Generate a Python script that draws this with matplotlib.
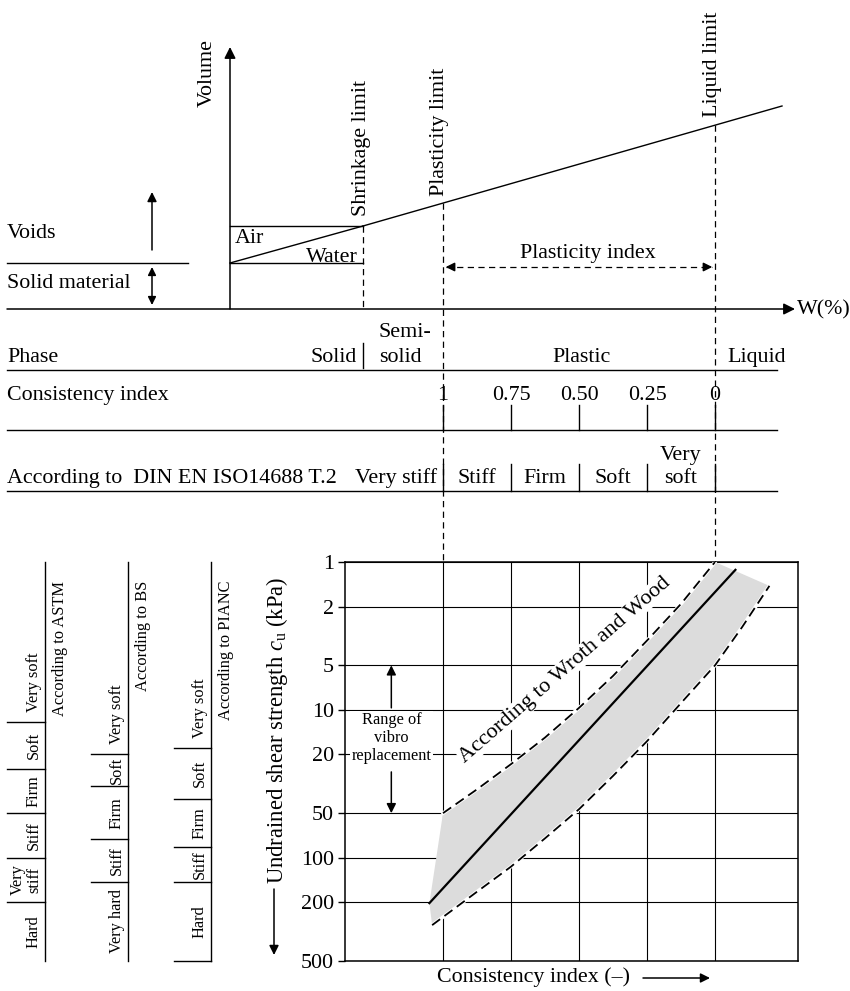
"""
Soil consistency diagram: volume vs water content, consistency classes
and undrained shear strength vs consistency index (Wroth and Wood).
"""
import matplotlib
matplotlib.use("Agg")
import matplotlib.pyplot as plt
from matplotlib.transforms import blended_transform_factory

plt.rcParams['font.family'] = ['Liberation Serif', 'DejaVu Serif']
plt.rcParams['mathtext.fontset'] = 'custom'
plt.rcParams['mathtext.rm'] = 'Liberation Serif'
plt.rcParams['mathtext.it'] = 'Liberation Serif:italic'

# ---- data ----
ic_ticks = [1.0, 0.75, 0.50, 0.25, 0.0]
ic_tick_labels = ['1', '0.75', '0.50', '0.25', '0']
din_labels = ['Stiff', 'Firm', 'Soft', 'Very\nsoft']
cu_ticks = [1, 2, 5, 10, 20, 50, 100, 200, 500]

# Wroth and Wood band (consistency index, cu in kPa)
mid_ic = [1.05, -0.075]
mid_cu = [203, 1.13]
upper_ic = [1.0, 0.875, 0.75, 0.625, 0.5, 0.375, 0.25, 0.125, 0.0]
upper_cu = [50, 34.5, 23.3, 15.4, 9.7, 5.9, 3.4, 1.92, 1.0]
lower_ic = [1.04, 0.875, 0.75, 0.625, 0.5, 0.375, 0.25, 0.125, 0.0, -0.1, -0.2]
lower_cu = [286, 170, 115, 74, 47, 28, 16.3, 9.0, 5.0, 2.75, 1.45]

vibro_range = [5, 50]

astm_bounds = [12, 25, 50, 100, 200]
astm_labels = ['Very soft', 'Soft', 'Firm', 'Stiff', 'Very\nstiff', 'Hard']
bs_bounds = [20, 33, 75, 145]
bs_labels = ['Very soft', 'Soft', 'Firm', 'Stiff', 'Very hard']
pianc_bounds = [18, 40, 85, 145]
pianc_labels = ['Very soft', 'Soft', 'Firm', 'Stiff', 'Hard']

FS = 15.8
SMALL = 11.8
K = 'black'
LW = 1.0
DASH = (5, 3.5)


def arrow(ax, tail, head, style='-|>', scale=15, **kw):
    ax.annotate('', xy=head, xytext=tail,
                arrowprops=dict(arrowstyle=style, color=K, lw=1.1,
                                mutation_scale=scale, shrinkA=0, shrinkB=0),
                **kw)


fig = plt.figure(figsize=(8.5, 9.91), dpi=100)

# overlay in pixel coordinates (y downwards)
ov = fig.add_axes([0, 0, 1, 1])
ov.set_xlim(0, 850)
ov.set_ylim(991, 0)
ov.axis('off')
ov.patch.set_visible(False)

# chart
ch = fig.add_axes([345 / 850, 30 / 991, 453 / 850, 399 / 991])
ch.set_yscale('log')
ch.set_ylim(500, 1)
ch.set_xlim(1.3603, -0.3051)
ch.set_yticks(cu_ticks)
ch.set_yticklabels([str(v) for v in cu_ticks], fontsize=FS)
ch.yaxis.set_minor_locator(plt.NullLocator())
ch.set_xticks([])
ch.tick_params(axis='y', length=5, width=1, pad=3)
for s in ch.spines.values():
    s.set_linewidth(1.1)
for v in cu_ticks:
    ch.axhline(v, color=K, lw=0.8, zorder=1)
for v in ic_ticks:
    ch.axvline(v, color=K, lw=0.8, zorder=1)

bt_ic = blended_transform_factory(ch.transData, ov.transData)
bt_cu = blended_transform_factory(ov.transData, ch.transData)

# band
poly_ic = upper_ic + lower_ic[::-1] + [mid_ic[0]]
poly_cu = upper_cu + lower_cu[::-1] + [mid_cu[0]]
ch.fill(poly_ic, poly_cu, color='#dcdcdc', lw=0, zorder=2)
for xs, ys in [(upper_ic, upper_cu), (lower_ic, lower_cu)]:
    ch.plot(xs, ys, color='white', lw=2.6, zorder=3)
    ch.plot(xs, ys, color=K, lw=1.3, dashes=(5.5, 3), zorder=4)
ch.plot(mid_ic, mid_cu, color=K, lw=1.6, zorder=4)

ch.text(0.5515, 5.38, 'According to Wroth and Wood', rotation=41,
        rotation_mode='anchor', ha='center', va='center', fontsize=16,
        bbox=dict(fc='white', ec='none', pad=0.5), zorder=5)

vx = 1.19
ch.text(vx, 15.5, 'Range of\nvibro\nreplacement', ha='center', va='center',
        fontsize=SMALL, linespacing=1.15,
        bbox=dict(fc='white', ec='none', pad=1), zorder=5)
arrow(ch, (vx, 9.7), (vx, vibro_range[0]), scale=14)
arrow(ch, (vx, 26.3), (vx, vibro_range[1]), scale=14)

ov.text(277, 730, r'Undrained shear strength $c_\mathrm{u}$ (kPa)',
        rotation=90, ha='center', va='center', fontsize=16.3)
arrow(ov, (274, 889), (274, 955), scale=14)
ov.text(534, 977, 'Consistency index (–)', ha='center', va='center', fontsize=FS)
arrow(ov, (643, 978), (710, 978), scale=14)

# ---- top: volume diagram ----
arrow(ov, (230, 309), (230, 47), scale=17)
arrow(ov, (7, 309), (795, 309), scale=17)
ov.text(797, 310, 'W(%)', ha='left', va='center', fontsize=FS)
ov.text(207, 73, 'Volume', rotation=90, ha='center', va='center', fontsize=FS)

ov.plot([7, 188], [263, 263], color=K, lw=LW)
arrow(ov, (152, 250), (152, 192), scale=14)
arrow(ov, (152, 267), (152, 305), style='<|-|>', scale=12)
ov.text(7, 238, 'Voids', va='baseline', fontsize=FS)
ov.text(7, 288, 'Solid material', va='baseline', fontsize=FS)

ov.plot([230, 363], [226, 226], color=K, lw=LW)
ov.plot([230, 363], [263, 263], color=K, lw=LW)
ov.plot([230, 363], [263, 226], color=K, lw=LW)
ov.plot([363, 782], [226, 106], color=K, lw=LW)
ov.text(235, 243, 'Air', va='baseline', fontsize=FS)
ov.text(358, 262, 'Water', ha='right', va='baseline', fontsize=FS)

ov.plot([363, 363], [226, 309], color=K, lw=0.9, dashes=DASH)
ov.plot([1, 1], [203, 562], color=K, lw=0.9, dashes=DASH, transform=bt_ic)
ov.plot([0, 0], [125, 562], color=K, lw=0.9, dashes=DASH, transform=bt_ic)
ov.text(362, 216, 'Shrinkage limit', rotation=90, ha='center', va='bottom', fontsize=FS)
ov.text(440, 196, 'Plasticity limit', rotation=90, ha='center', va='bottom', fontsize=FS)
ov.text(713, 117, 'Liquid limit', rotation=90, ha='center', va='bottom', fontsize=FS)

ov.plot([0.99, 0.01], [267, 267], color=K, lw=0.9, dashes=DASH, transform=bt_ic)
arrow(ov, (0.96, 267), (0.99, 267), scale=13, xycoords=bt_ic, textcoords=bt_ic)
arrow(ov, (0.04, 267), (0.01, 267), scale=13, xycoords=bt_ic, textcoords=bt_ic)
ov.text(588, 258, 'Plasticity index', ha='center', va='baseline', fontsize=FS)

# ---- phase / consistency / DIN rows ----
ov.text(7, 362, 'Phase', va='baseline', fontsize=FS)
ov.text(357, 362, 'Solid', ha='right', va='baseline', fontsize=FS)
ov.plot([363, 363], [343, 368], color=K, lw=LW)
ov.text(379, 337, 'Semi-', va='baseline', fontsize=FS)
ov.text(379, 362, 'solid', va='baseline', fontsize=FS)
ov.text(581, 362, 'Plastic', ha='center', va='baseline', fontsize=FS)
ov.text(757, 362, 'Liquid', ha='center', va='baseline', fontsize=FS)
for y in [370, 430, 491]:
    ov.plot([7, 777], [y, y], color=K, lw=LW)

ov.text(7, 400, 'Consistency index', va='baseline', fontsize=FS)
for v, lab in zip(ic_ticks, ic_tick_labels):
    ov.text(v, 400, lab, transform=bt_ic, ha='center', va='baseline', fontsize=FS)
    ov.plot([v, v], [405, 430], color=K, lw=LW, transform=bt_ic)
    ov.plot([v, v], [464, 491], color=K, lw=LW, transform=bt_ic)

ov.text(7, 483, 'According to  DIN EN ISO14688 T.2', va='baseline', fontsize=FS)
ov.text(437, 483, 'Very stiff', ha='right', va='baseline', fontsize=FS)
for i, lab in enumerate(din_labels):
    xm = (ic_ticks[i] + ic_ticks[i + 1]) / 2
    for j, line in enumerate(reversed(lab.split('\n'))):
        ov.text(xm, 483 - 23 * j, line, transform=bt_ic, ha='center',
                va='baseline', fontsize=FS)


# ---- left: classification columns ----
def column(bounds, labels, title, x_line, x_div, title_x, bottom_rule=False):
    ov.plot([x_line, x_line], [1, 500], color=K, lw=LW, transform=bt_cu)
    for b in bounds:
        ov.plot([x_div, x_line], [b, b], color=K, lw=LW, transform=bt_cu)
    if bottom_rule:
        ov.plot([x_div, x_line], [500, 500], color=K, lw=LW, transform=bt_cu)
    edges = bounds + [500]
    lx = x_line - 3
    ov.annotate(labels[0], xy=(lx, bounds[0]), xycoords=bt_cu,
                xytext=(0, 10), textcoords='offset pixels', rotation=90,
                ha='right', va='bottom', fontsize=SMALL)
    for i, lab in enumerate(labels[1:]):
        yc = (edges[i] * edges[i + 1]) ** 0.5
        ov.text(lx, yc, lab, transform=bt_cu, rotation=90, ha='right',
                va='center', multialignment='center', fontsize=SMALL,
                linespacing=1.0)
    ov.text(title_x, 581, 'According to ' + title, rotation=90,
            ha='left', va='top', fontsize=SMALL)


column(astm_bounds, astm_labels, 'ASTM', 45, 7, 52)
column(bs_bounds, bs_labels, 'BS', 128, 91, 135)
column(pianc_bounds, pianc_labels, 'PIANC', 211, 174, 218, bottom_rule=True)

fig.savefig('out.png', dpi=100)
